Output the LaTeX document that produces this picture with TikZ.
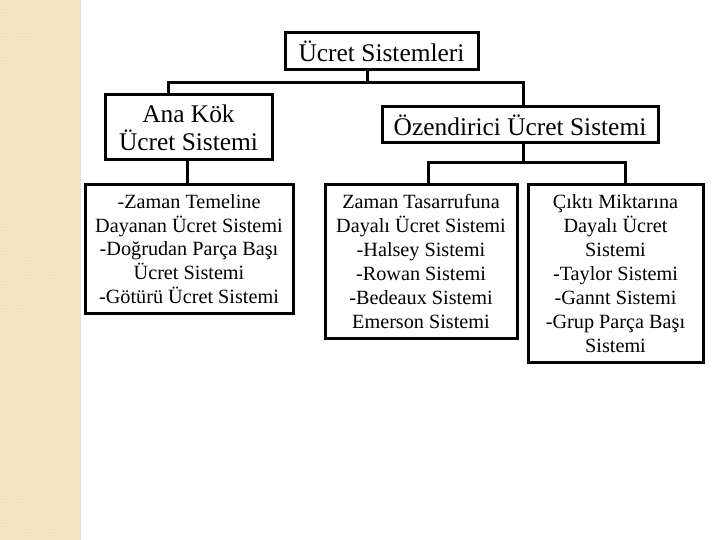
\documentclass[tikz,border=0pt]{standalone}
\usepackage{fontspec}
\setmainfont{Liberation Serif}
\usetikzlibrary{patterns}
\definecolor{stripe}{RGB}{246,231,196}
\definecolor{stripedot}{RGB}{238,218,172}
\begin{document}
\begin{tikzpicture}[x=1bp,y=-1bp,
  box/.style={draw=black,line width=3bp,inner sep=0pt,align=center,fill=white},
  bigtxt/.style={font=\fontsize{25.5}{28}\selectfont},
  smalltxt/.style={font=\fontsize{20.3}{24}\selectfont},
  conn/.style={draw=black,line width=3bp}]
\useasboundingbox (0,0) rectangle (720,540);
\fill[white] (0,0) rectangle (720,540);
\fill[stripe] (0,0) rectangle (80,540);
\fill[pattern=crosshatch dots,pattern color=stripedot] (0,0) rectangle (80,540);
\draw[black!12,line width=0.6bp] (80.5,0) -- (80.5,540);

\node[box,bigtxt,minimum width=193bp,minimum height=37bp] (top) at (381.5,51.5) {Ücret Sistemleri};
\node[box,bigtxt,minimum width=167bp,minimum height=65bp] (ana) at (188.5,127.5) {Ana Kök\\Ücret Sistemi};
\node[box,bigtxt,minimum width=276bp,minimum height=36bp] (oz) at (520,125) {Özendirici Ücret Sistemi};
\node[box,smalltxt,minimum width=208bp,minimum height=128bp] (left) at (189,249)
  {-Zaman Temeline\\Dayanan Ücret Sistemi\\-Doğrudan Parça Başı\\Ücret Sistemi\\-Götürü Ücret Sistemi};
\node[box,smalltxt,minimum width=192bp,minimum height=153bp] (mid) at (421,261.5)
  {Zaman Tasarrufuna\\Dayalı Ücret Sistemi\\-Halsey Sistemi\\-Rowan Sistemi\\-Bedeaux Sistemi\\Emerson Sistemi};
\node[box,smalltxt,minimum width=175bp,minimum height=177bp] (right) at (615.5,273.5)
  {Çıktı Miktarına\\Dayalı Ücret\\Sistemi\\-Taylor Sistemi\\-Gannt Sistemi\\-Grup Parça Başı\\Sistemi};

\coordinate (t1) at (367,83);
\coordinate (hl) at (168,83);
\coordinate (hr) at (523,83);
\coordinate (a1) at (187,173);
\coordinate (o1) at (523,163);
\coordinate (ol) at (428,163);
\coordinate (or) at (625,163);

\draw[conn] (top.south -| t1) -- (t1);
\draw[conn,line cap=rect] (hl) -- (hr);
\draw[conn] (hl) -- (ana.north -| hl);
\draw[conn] (hr) -- (oz.north -| hr);
\draw[conn] (ana.south -| a1) -- (left.north -| a1);
\draw[conn] (oz.south -| o1) -- (o1);
\draw[conn,line cap=rect] (ol) -- (or);
\draw[conn] (ol) -- (mid.north -| ol);
\draw[conn] (or) -- (right.north -| or);
\end{tikzpicture}
\end{document}
